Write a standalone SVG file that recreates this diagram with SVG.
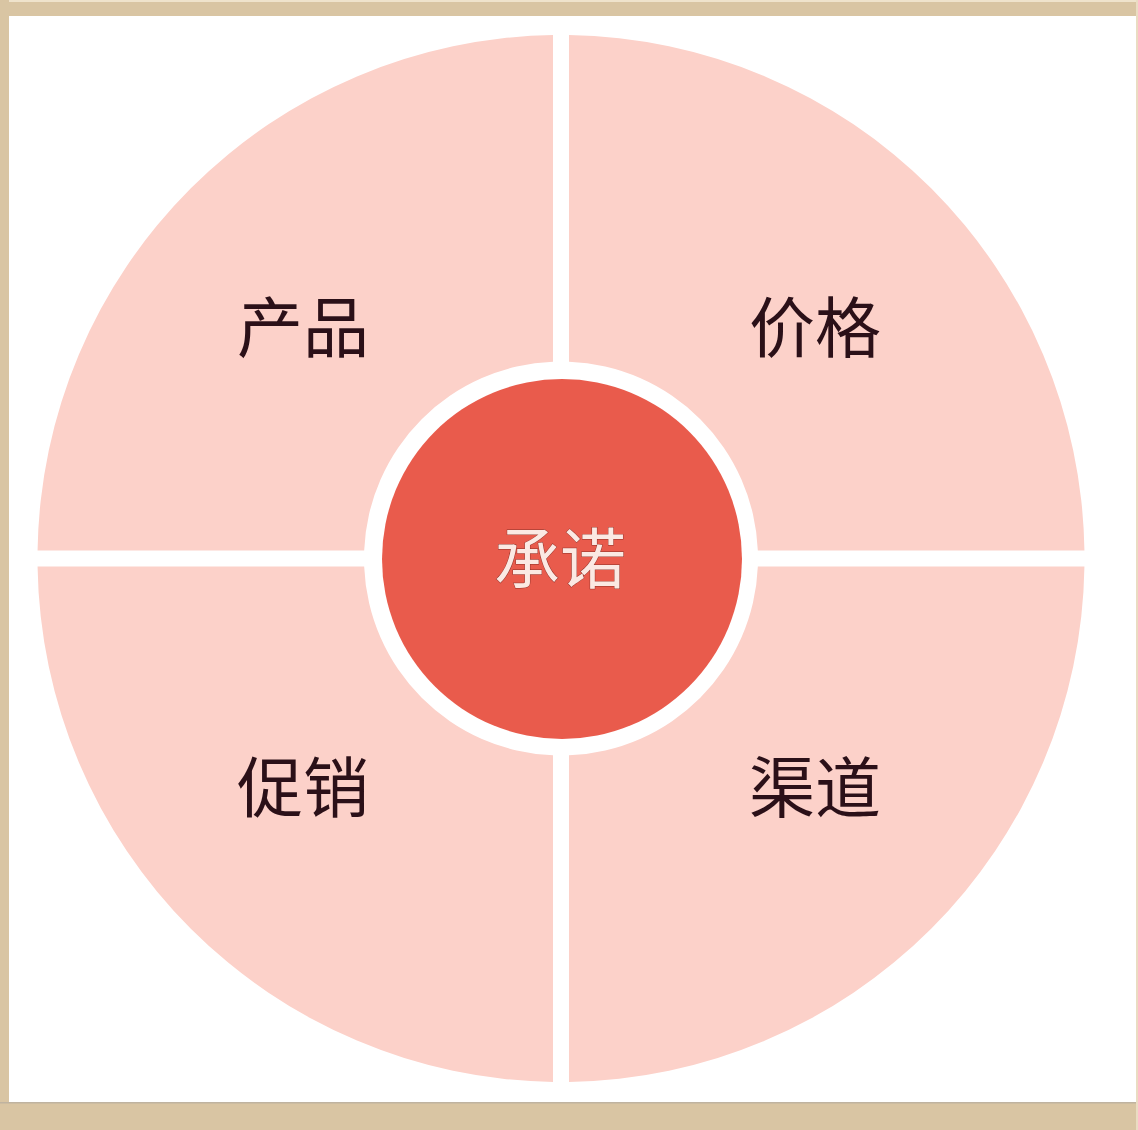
<svg xmlns="http://www.w3.org/2000/svg" width="1138" height="1130" viewBox="0 0 1138 1130">
  <style>
    .quad { fill: #fcd1c9; }
    .lbl { font-family: "Noto Sans CJK SC", "Noto Sans", sans-serif; font-size: 66px; fill: #2b1018; text-anchor: middle; }
    .core-lbl { font-family: "Noto Sans CJK SC", "Noto Sans", sans-serif; font-size: 66px; fill: #fbe9e3; stroke: #8a3028; stroke-width: 0.9; paint-order: stroke; text-anchor: middle; }
    .frame { fill: #d9c5a3; }
  </style>
  <rect x="0" y="0" width="1138" height="1130" fill="#ffffff"/>
  <g id="frame">
    <rect class="frame" x="0" y="0" width="1138" height="16"/>
    <rect x="0" y="0" width="1138" height="2" fill="#efe3cc"/>
    <rect class="frame" x="0" y="0" width="9" height="1130"/>
    <rect class="frame" x="0" y="1103" width="1138" height="27"/>
    <rect x="0" y="1102" width="1138" height="1.5" fill="#bfb3a0"/>
    <rect x="1136" y="0" width="2" height="1130" fill="#eadcc2"/>
  </g>
  <g id="product">
    <path class="quad" d="M 553 35.06 L 553 361.66 A 197 197 0 0 0 364.16 550.5 L 37.56 550.5 A 523.5 523.5 0 0 1 553 35.06 Z"/>
    <text class="lbl" x="303" y="352">产品</text>
  </g>
  <g id="price">
    <path class="quad" d="M 569 35.06 A 523.5 523.5 0 0 1 1084.44 550.5 L 757.84 550.5 A 197 197 0 0 0 569 361.66 Z"/>
    <text class="lbl" x="815" y="352">价格</text>
  </g>
  <g id="channel">
    <path class="quad" d="M 1084.44 566.5 A 523.5 523.5 0 0 1 569 1081.94 L 569 755.34 A 197 197 0 0 0 757.84 566.5 Z"/>
    <text class="lbl" x="815" y="812">渠道</text>
  </g>
  <g id="promotion">
    <path class="quad" d="M 553 1081.94 A 523.5 523.5 0 0 1 37.56 566.5 L 364.16 566.5 A 197 197 0 0 0 553 755.34 Z"/>
    <text class="lbl" x="303" y="812">促销</text>
  </g>
  <g id="promise">
    <circle cx="562" cy="559" r="180" fill="#e95b4c"/>
    <text class="core-lbl" x="560" y="583">承诺</text>
  </g>
  <g id="connectors"/>
</svg>
